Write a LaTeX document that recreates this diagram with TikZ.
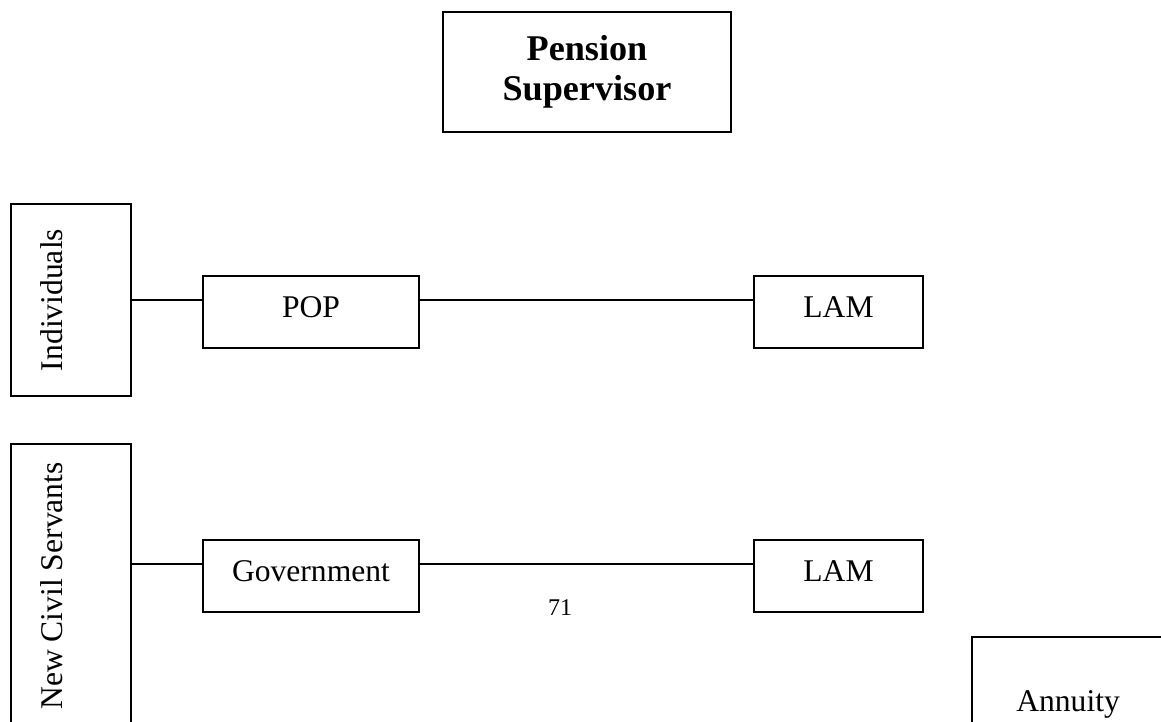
\documentclass[tikz,border=0pt]{standalone}
\usepackage{fontspec}
\setmainfont{Liberation Serif}
\begin{document}
\begin{tikzpicture}[x=0.5pt,y=-0.5pt]
  \tikzstyle boxS=[draw=black,line width=1.1pt,inner sep=0pt,font=\fontsize{15.8}{19}\selectfont];
  \tikzstyle planS=[boxS,minimum height=36pt,text height=20.5pt,text depth=15.5pt];
  \tikzstyle sideS=[boxS,rotate=90,text height=25.5pt,text depth=34.5pt];
  \tikzstyle linkS=[line width=1pt];
  \useasboundingbox (0,0) rectangle (1161,722);
  \clip (0,0) rectangle (1161,722);
  \node[boxS,minimum width=144pt,minimum height=60pt,align=center,
    font=\bfseries\fontsize{18.1}{20}\selectfont] (super) at (587,72) {Pension\\Supervisor};
  \coordinate (rowA) at (0,300);
  \coordinate (rowB) at (0,564);
  \node[sideS,minimum width=96pt] (indiv) at (71,300) {Individuals};
  \node[sideS,minimum width=142pt] (civil) at (71,586) {New Civil Servants};
  \node[planS,minimum width=108pt] (pop) at (311,312) {POP};
  \node[planS,minimum width=108pt] (gov) at (311,576) {Government};
  \node[planS,minimum width=84.5pt] (lamA) at (838.5,312) {LAM};
  \node[planS,minimum width=84.5pt] (lamB) at (838.5,576) {LAM};
  \node[boxS,anchor=north west,minimum width=96pt,text height=37pt,text depth=30pt] (annuity) at (971,636) {Annuity};
  \node[font=\fontsize{12}{14}\selectfont] (pagenum) at (560,608) {71};
  \draw[linkS] (indiv.south |- rowA) -- (pop.west |- rowA);
  \draw[linkS] (pop.east |- rowA) -- (lamA.west |- rowA);
  \draw[linkS] (civil.south |- rowB) -- (gov.west |- rowB);
  \draw[linkS] (gov.east |- rowB) -- (lamB.west |- rowB);
\end{tikzpicture}
\end{document}
